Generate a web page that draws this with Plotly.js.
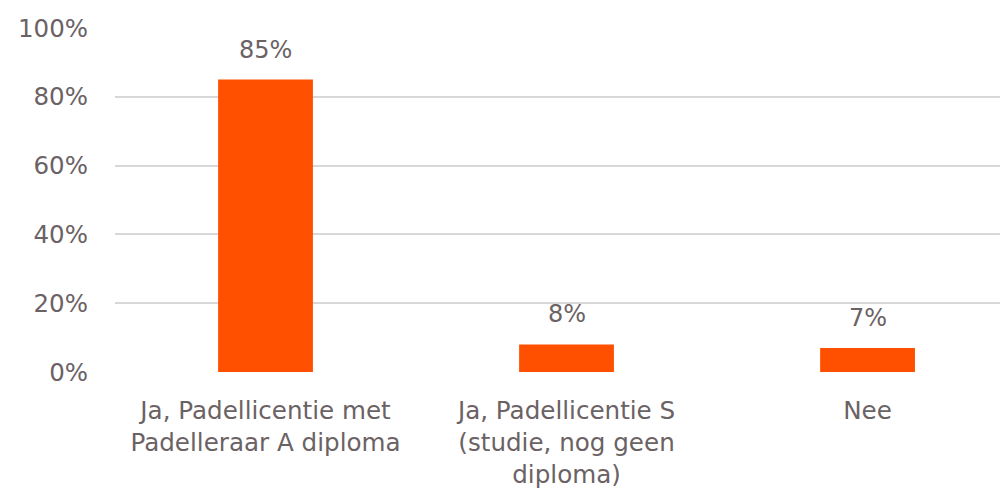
<!DOCTYPE html>
<html><head><meta charset="utf-8">
<script src="https://cdn.plot.ly/plotly-3.0.1.min.js"></script>
<style>html,body{margin:0;padding:0;background:#fff;}#chart{width:1002px;height:492px;}</style>
</head><body><div id="chart"></div>
<script>
const categories = ["Ja, Padellicentie met<br>Padelleraar A diploma", "Ja, Padellicentie S<br>(studie, nog geen<br>diploma)", "Nee"];
const values = [85, 8, 7];
const valueLabels = ["85%", "8%", "7%"];
const yTickVals = [0, 20, 40, 60, 80, 100];
const yTickText = ["0%", "20%", "40%", "60%", "80%", "100%"];

const textColor = '#6b6264';
const fontFam = 'DejaVu Sans, sans-serif';

const xs = values.map((v, i) => i);

Plotly.newPlot('chart', [{
  type: 'bar',
  x: xs,
  y: values,
  width: 0.315,
  marker: {color: '#FF5000'},
  hoverinfo: 'none'
}], {
  width: 1002, height: 492,
  margin: {l: 115, r: 2, t: 28, b: 120},
  paper_bgcolor: '#fff', plot_bgcolor: '#fff',
  showlegend: false,
  font: {family: fontFam, color: textColor, size: 24},
  annotations: values.map((v, i) => ({
    x: xs[i], y: v, xref: 'x', yref: 'y',
    text: valueLabels[i], showarrow: false,
    yanchor: 'bottom', yshift: 14,
    font: {family: fontFam, size: 24, color: textColor}
  })),
  xaxis: {
    range: [-0.5, 2.44],
    tickvals: xs,
    ticktext: categories,
    showgrid: false, zeroline: false, showline: false,
    ticks: '', ticklabelstandoff: 21,
    tickfont: {family: fontFam, size: 24.6, color: textColor},
    fixedrange: true
  },
  yaxis: {
    range: [0, 100],
    tickvals: yTickVals,
    ticktext: yTickText,
    showgrid: true, gridcolor: '#dad7d8', gridwidth: 2,
    zeroline: false, showline: false,
    ticks: '', ticklabelstandoff: 26,
    tickfont: {family: fontFam, size: 24.5, color: textColor},
    fixedrange: true
  }
}, {displayModeBar: false, staticPlot: true});
</script></body></html>
